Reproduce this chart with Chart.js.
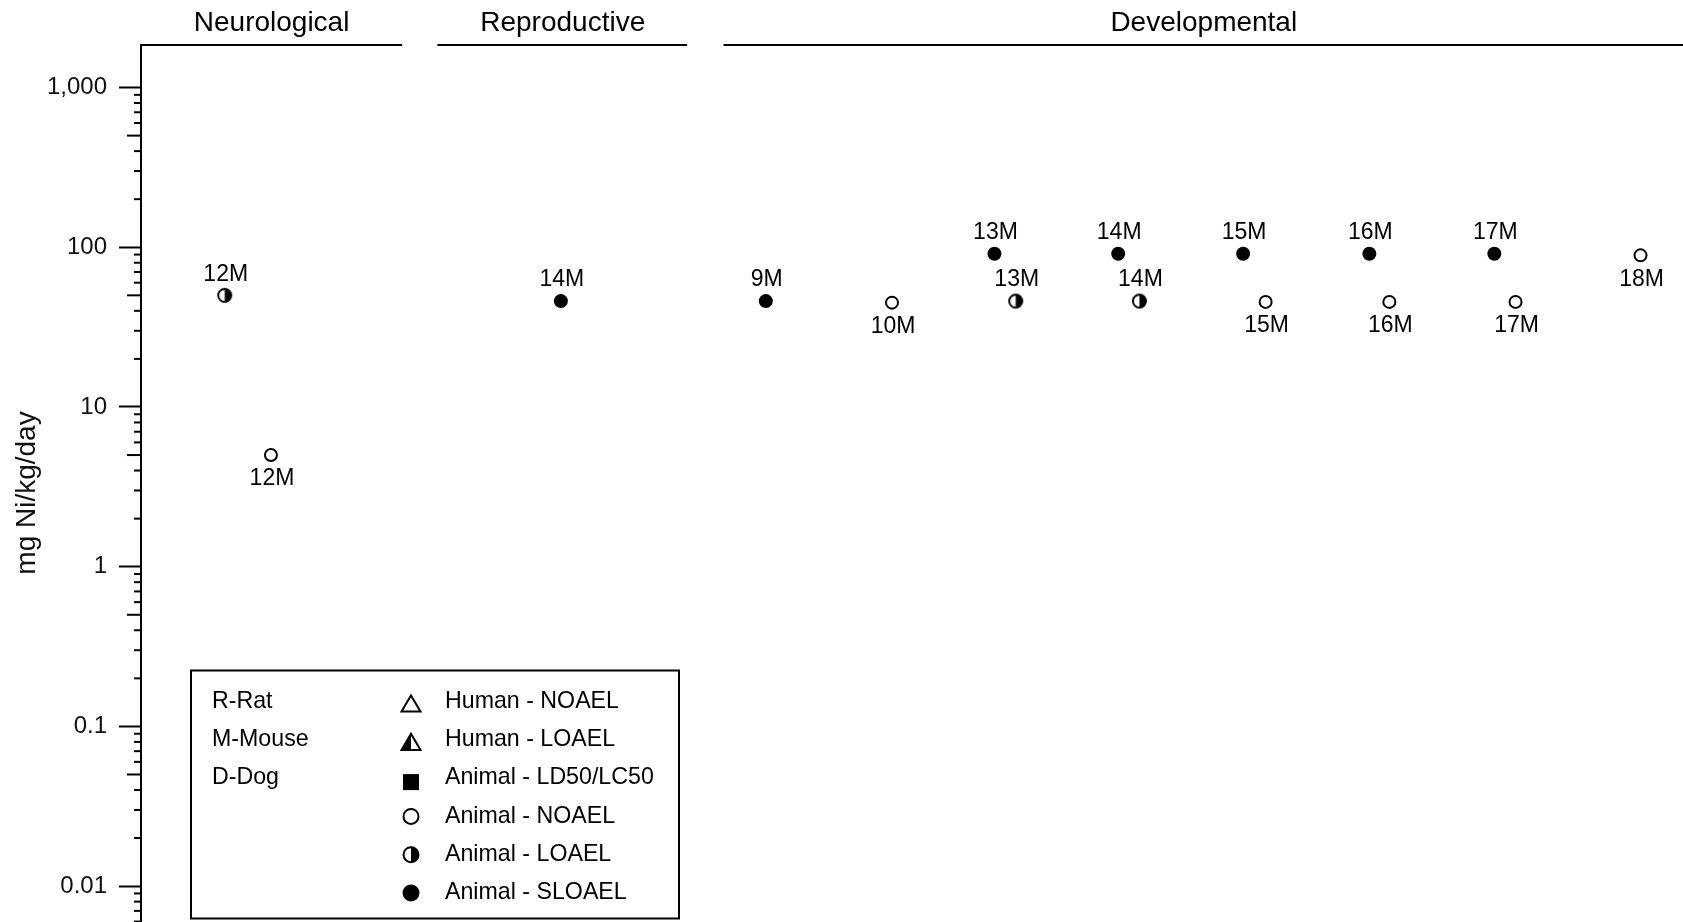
<!DOCTYPE html>
<html>
<head>
<meta charset="utf-8">
<script src="https://cdn.jsdelivr.net/npm/chart.js@4.4.1/dist/chart.umd.min.js"></script>
<style>
  html, body { margin: 0; padding: 0; background: #fff; overflow: hidden; }
  #wrap { width: 1683px; height: 940px; }
</style>
</head>
<body>
<div id="wrap"><canvas id="lse" width="1683" height="940"></canvas></div>
<script>
// effect groups along the top, in study-column units
const groupNames = ['Neurological', 'Reproductive', 'Developmental'];
const groupStart = [0, 2.38, 4.67];
const groupEnd   = [2.09, 4.37, 12.34];

// Animal NOAEL (open circle)
const noaelX   = [1.04, 6.01, 9.0, 9.99, 11.0, 12.0];
const noaelY   = [5, 45, 45.5, 45.5, 45.5, 89];
const noaelTag = ['12M', '10M', '15M', '16M', '17M', '18M'];

// Animal LOAEL (half circle)
const loaelX   = [0.67, 7.0, 7.99];
const loaelY   = [50, 46, 46];
const loaelTag = ['12M', '13M', '14M'];

// Animal SLOAEL (filled circle)
const sloaelX   = [3.36, 5.0, 6.83, 7.82, 8.82, 9.83, 10.83];
const sloaelY   = [46, 46, 91, 91, 91, 91, 91];
const sloaelTag = ['14M', '9M', '13M', '14M', '15M', '16M', '17M'];

const yTickValues = [0.01, 0.1, 1, 10, 100, 1000];
const yTickLabels = ['0.01', '0.1', '1', '10', '100', '1,000'];

const speciesKey = ['R-Rat', 'M-Mouse', 'D-Dog'];
const symbolKey = ['Human - NOAEL', 'Human - LOAEL', 'Animal - LD50/LC50', 'Animal - NOAEL', 'Animal - LOAEL', 'Animal - SLOAEL'];
const symbolKind = ['triOpen', 'triHalf', 'square', 'circOpen', 'circHalf', 'circFull'];

const FONT = "'Liberation Sans', Arial, sans-serif";

function isMajor(v) {
  const l = Math.log10(v);
  return Math.abs(l - Math.round(l)) < 1e-9;
}

// marker shapes, shared by the plot and the key
function drawSymbol(g, kind, x, y, r) {
  g.save();
  g.lineWidth = 2;
  g.strokeStyle = '#000';
  g.fillStyle = '#000';
  if (kind.startsWith('circ')) {
    g.beginPath(); g.arc(x, y, r, 0, Math.PI * 2);
    g.fillStyle = kind === 'circFull' ? '#000' : '#fff';
    g.fill();
    if (kind === 'circHalf') {
      g.beginPath(); g.arc(x, y, r, -Math.PI / 2, Math.PI / 2); g.closePath();
      g.fillStyle = '#000'; g.fill();
    }
    g.beginPath(); g.arc(x, y, r, 0, Math.PI * 2); g.stroke();
  } else if (kind.startsWith('tri')) {
    const h = r * 1.7;
    g.beginPath();
    g.moveTo(x, y - h / 2); g.lineTo(x + r, y + h / 2); g.lineTo(x - r, y + h / 2); g.closePath();
    g.fillStyle = '#fff'; g.fill();
    if (kind === 'triHalf') {
      g.beginPath();
      g.moveTo(x, y - h / 2); g.lineTo(x, y + h / 2); g.lineTo(x - r, y + h / 2); g.closePath();
      g.fillStyle = '#000'; g.fill();
    }
    g.beginPath();
    g.moveTo(x, y - h / 2); g.lineTo(x + r, y + h / 2); g.lineTo(x - r, y + h / 2); g.closePath();
    g.stroke();
  } else if (kind === 'square') {
    g.fillRect(x - r, y - r, 2 * r, 2 * r);
  }
  g.restore();
}

function markerCanvas(kind, r) {
  const c = document.createElement('canvas');
  const s = Math.ceil(2 * r + 4);
  c.width = c.height = s;
  drawSymbol(c.getContext('2d'), kind, s / 2, s / 2, r);
  return c;
}

const halfMarker = markerCanvas('circHalf', 6.5);

function pts(xs, ys) {
  return xs.map((x, i) => ({ x: x, y: ys[i] }));
}

// group headings, minor ticks, point tags and the key box
const decorPlugin = {
  id: 'decor',
  afterDraw(chart) {
    const g = chart.ctx;
    const xs = chart.scales.x;
    const ys = chart.scales.y;
    const area = chart.chartArea;
    g.save();

    // headings with rules
    g.strokeStyle = '#000';
    g.lineWidth = 2;
    g.fillStyle = '#000';
    g.font = '28px ' + FONT;
    g.textAlign = 'center';
    g.textBaseline = 'alphabetic';
    groupNames.forEach((name, i) => {
      const x1 = xs.getPixelForValue(groupStart[i]);
      const x2 = i === groupNames.length - 1 ? chart.width : xs.getPixelForValue(groupEnd[i]);
      g.beginPath();
      g.moveTo(x1 - 1, area.top - 1);
      g.lineTo(x2, area.top - 1);
      g.stroke();
      g.fillText(name, (x1 + x2) / 2, 31);
    });

    // minor ticks on the log axis
    ys.ticks.forEach(t => {
      if (isMajor(t.value)) return;
      const m = Math.round(t.value / Math.pow(10, Math.floor(Math.log10(t.value) + 1e-9)));
      const len = m === 5 ? 14 : 7;
      const y = ys.getPixelForValue(t.value);
      g.beginPath();
      g.moveTo(area.left - len, y);
      g.lineTo(area.left, y);
      g.stroke();
    });

    // study tags
    g.font = '23px ' + FONT;
    g.textBaseline = 'middle';
    chart.data.datasets.forEach((ds, di) => {
      const meta = chart.getDatasetMeta(di);
      meta.data.forEach((el, i) => {
        const dy = ds.tagBelow ? 24 : -21;
        g.fillText(ds.tags[i], el.x + 1, el.y + dy);
      });
    });

    // key box
    g.lineWidth = 2;
    g.strokeRect(191, 670.5, 488, 248);
    g.textAlign = 'left';
    g.font = '23.2px ' + FONT;
    const rowY = 701.5, rowH = 38.3;
    speciesKey.forEach((s, i) => g.fillText(s, 212, rowY + i * rowH));
    symbolKey.forEach((s, i) => {
      const y = rowY + i * rowH;
      const kind = symbolKind[i];
      const sy = kind === 'square' ? y + 4 : (kind.startsWith('tri') ? y + 2 : y);
      drawSymbol(g, kind, 411, sy, kind.startsWith('tri') ? 9.5 : (kind === 'square' ? 8 : 7.5));
      g.fillText(s, 445, y);
    });

    g.restore();
  }
};

new Chart(document.getElementById('lse'), {
  type: 'scatter',
  data: {
    datasets: [
      {
        label: 'Animal - NOAEL',
        data: pts(noaelX, noaelY),
        tags: noaelTag,
        tagBelow: true,
        pointStyle: 'circle',
        pointRadius: 6,
        pointBorderWidth: 2,
        pointBorderColor: '#000',
        pointBackgroundColor: '#fff'
      },
      {
        label: 'Animal - LOAEL',
        data: pts(loaelX, loaelY),
        tags: loaelTag,
        tagBelow: false,
        pointStyle: halfMarker,
        pointRadius: 7
      },
      {
        label: 'Animal - SLOAEL',
        data: pts(sloaelX, sloaelY),
        tags: sloaelTag,
        tagBelow: false,
        pointStyle: 'circle',
        pointRadius: 7,
        pointBorderWidth: 0,
        pointBackgroundColor: '#000'
      }
    ]
  },
  options: {
    responsive: false,
    devicePixelRatio: 1,
    animation: false,
    layout: { autoPadding: false, padding: { top: 46, left: 0, right: 0, bottom: 0 } },
    plugins: { legend: { display: false }, tooltip: { enabled: false } },
    scales: {
      x: {
        type: 'linear',
        display: false,
        min: 0,
        max: 12.34
      },
      y: {
        type: 'logarithmic',
        min: 0.0046,
        max: 1820,
        afterFit: s => {
          s.width = 141;
          s.paddingTop = 0;
          s.paddingBottom = 0;
        },
        afterBuildTicks: axis => {
          const t = [];
          for (let e = -3; e <= 3; e++) {
            for (let m = 1; m <= 9; m++) {
              const v = m * Math.pow(10, e);
              if (v >= axis.min && v <= axis.max) t.push({ value: v });
            }
          }
          axis.ticks = t;
        },
        border: { display: true, color: '#000', width: 2 },
        grid: {
          drawOnChartArea: false,
          drawTicks: true,
          tickLength: 22,
          tickWidth: 2,
          tickColor: ctx => (ctx.tick && isMajor(ctx.tick.value)) ? '#000' : 'rgba(0,0,0,0)'
        },
        ticks: {
          autoSkip: false,
          padding: 12,
          color: '#111',
          font: { family: FONT, size: 24 },
          callback: v => {
            const k = yTickValues.findIndex(t => Math.abs(t - v) / t < 1e-6);
            return k >= 0 ? yTickLabels[k] : '';
          }
        },
        title: {
          display: true,
          text: 'mg Ni/kg/day',
          color: '#111',
          font: { family: FONT, size: 28 },
          padding: { top: 10, bottom: 0 }
        }
      }
    }
  },
  plugins: [decorPlugin]
});
</script>
</body>
</html>
